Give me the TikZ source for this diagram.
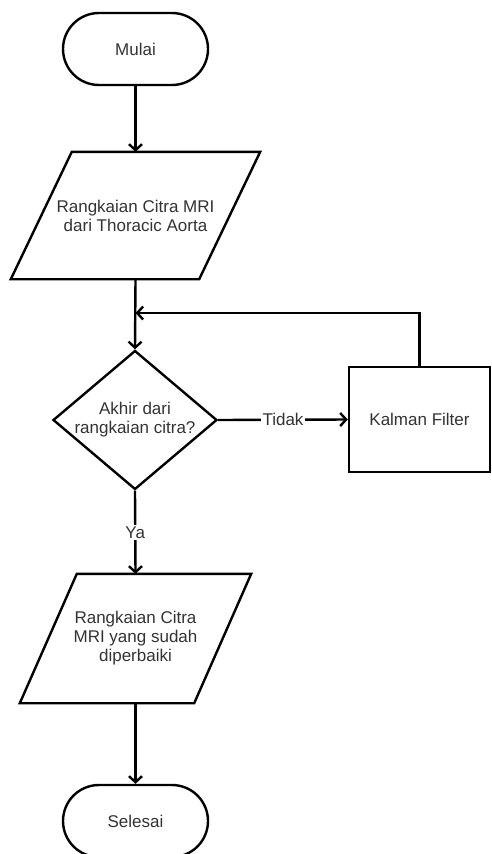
\documentclass[tikz,border=0pt]{standalone}
\usepackage{fontspec}
\setmainfont{Liberation Sans}
\usetikzlibrary{shapes.geometric,shapes.misc,arrows.meta,calc}
\begin{document}
\begin{tikzpicture}[x=1pt,y=-1pt,line width=2.4pt,
  txt/.style={font=\fontsize{17}{19}\selectfont, text=black!80, align=center},
  term/.style={txt, draw, rounded rectangle, minimum width=145pt, minimum height=72pt, inner sep=0pt},
  pbox/.style={txt, inner sep=0pt},
  dec/.style={draw, diamond, minimum width=164pt, minimum height=139pt, inner sep=0pt},
  proc/.style={txt, draw, rectangle, minimum width=141pt, minimum height=105pt, inner sep=0pt},
  lbl/.style={txt, fill=white, inner sep=1.5pt},
  arr/.style={-{Straight Barb[length=6pt,width=13pt]}}]
\clip (0,0) rectangle (492,854);
\fill[white] (0,0) rectangle (492,854);
\node[term] (start) at (135.5,49) {Mulai};
\node[pbox, minimum width=247pt, minimum height=125pt] (in) at (135.5,215.5) {Rangkaian Citra MRI\\dari Thoracic Aorta};
\draw ($(in.north west)+(61,0)$) -- (in.north east) -- ($(in.south east)+(-61,0)$) -- (in.south west) -- cycle;
\node[dec] (d) at (135,420) {};
\node[txt] (dt) at (d.center) {Akhir dari\\rangkaian citra?};
\node[proc] (k) at (419.5,419.5) {Kalman Filter};
\node[pbox, minimum width=229pt, minimum height=127pt] (out) at (135.5,638.5) {Rangkaian Citra\\MRI yang sudah\\diperbaiki};
\draw ($(out.north west)+(57,0)$) -- (out.north east) -- ($(out.south east)+(-57,0)$) -- (out.south west) -- cycle;
\node[term] (end) at (135.5,821) {Selesai};
\coordinate (j) at (135.5,313);
\draw[arr] (start.south) -- (in.north);
\draw[arr] (in.south) -- (d.north);
\draw[arr] (d.east) -- node[lbl] {Tidak} (k.west);
\draw[arr] (k.north) |- (j);
\draw[arr] (d.south) -- node[lbl] {Ya} (out.north);
\draw[arr] (out.south) -- (end.north);
\end{tikzpicture}
\end{document}
